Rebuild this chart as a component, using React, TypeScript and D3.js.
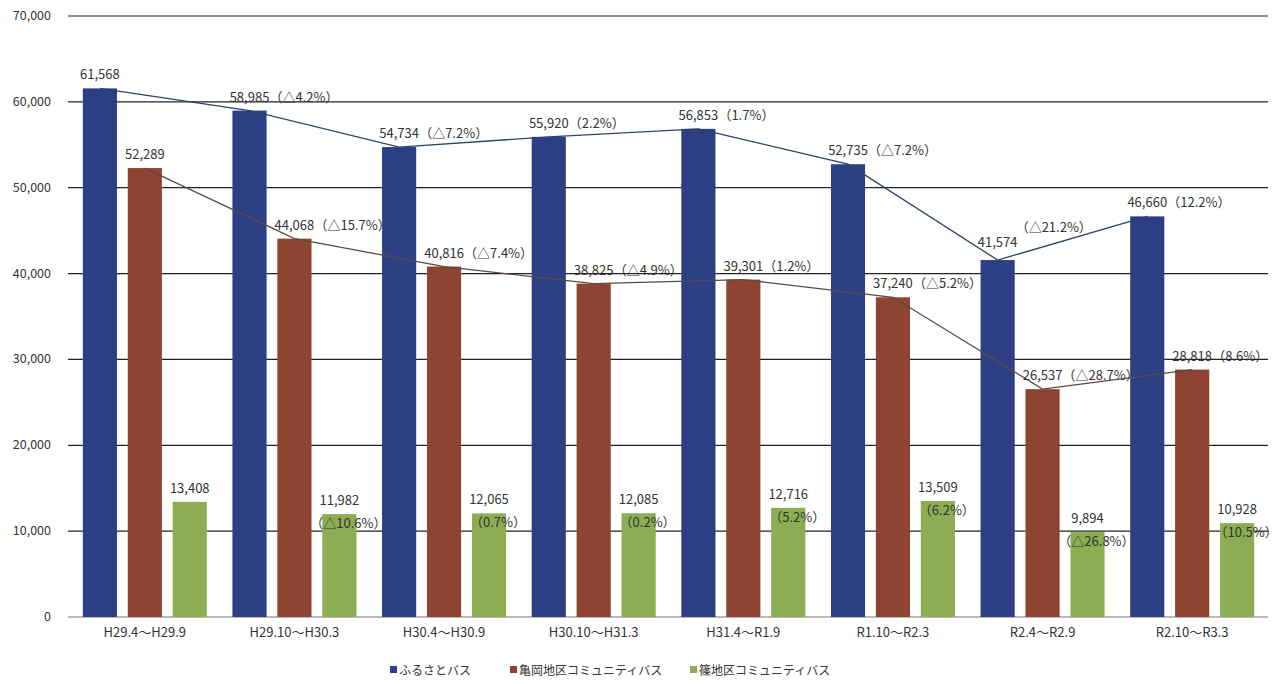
import React from 'react';
import * as d3 from 'd3';

const categories = [
  'H29.4～H29.9',
  'H29.10～H30.3',
  'H30.4～H30.9',
  'H30.10～H31.3',
  'H31.4～R1.9',
  'R1.10～R2.3',
  'R2.4～R2.9',
  'R2.10～R3.3',
];

const seriesNames = ['ふるさとバス', '亀岡地区コミュニティバス', '篠地区コミュニティバス'];

const furusato = [61568, 58985, 54734, 55920, 56853, 52735, 41574, 46660];
const kameoka = [52289, 44068, 40816, 38825, 39301, 37240, 26537, 28818];
const shino = [13408, 11982, 12065, 12085, 12716, 13509, 9894, 10928];

const yTicks = [0, 10000, 20000, 30000, 40000, 50000, 60000, 70000];

const colors = ['#2c3f84', '#8e4430', '#8cad52'];
const lineColors = ['#2c4366', '#5a4a44'];

const FONT = "'Noto Sans CJK JP', 'Noto Sans', sans-serif";
const fmt = d3.format(',');

// change vs previous period, △ for a drop
const change = (vals: number[], i: number) => {
  if (i === 0) return '';
  const r = vals[i] / vals[i - 1] - 1;
  const s = (Math.abs(r) * 100).toFixed(1) + '%';
  return r < 0 ? `（△${s}）` : `（${s}）`;
};

const width = 1280;
const height = 684;

const App: React.FC = () => {
  const series = [furusato, kameoka, shino];

  const y = d3.scaleLinear().domain([0, 70000]).range([617, 16]);
  const x = d3.scaleBand<string>().domain(categories).range([70, 1267]).padding(0);
  const inner = d3
    .scaleBand<number>()
    .domain([0, 1, 2])
    .range([-62, 62])
    .paddingInner(0.24)
    .paddingOuter(0);
  const bw = inner.bandwidth();

  const groupCenter = (c: string) => (x(c) ?? 0) + x.bandwidth() / 2;
  const barX = (c: string, s: number) => groupCenter(c) + (inner(s) ?? 0);
  const barMid = (c: string, s: number) => barX(c, s) + bw / 2;

  const legendX = [390, 510, 690];

  return (
    <svg
      width={width}
      height={height}
      style={{ position: 'absolute', left: 0, top: 0, background: '#fff' }}
      fontFamily={FONT}
    >
      {/* grid + y axis labels */}
      {yTicks.map((t) => (
        <g key={t}>
          <line
            x1={68}
            x2={1268}
            y1={y(t)}
            y2={y(t)}
            stroke={t === 0 ? '#777' : '#222'}
            strokeWidth={1.2}
          />
          <text x={51} y={y(t) + 4} textAnchor="end" fontSize={12.5} fill="#333">
            {fmt(t)}
          </text>
        </g>
      ))}

      {/* bars */}
      {series.map((vals, s) =>
        vals.map((v, i) => (
          <rect
            key={`${s}-${i}`}
            x={barX(categories[i], s)}
            y={y(v)}
            width={bw}
            height={y(0) - y(v)}
            fill={colors[s]}
          />
        ))
      )}

      {/* trend lines for the two bigger series */}
      {[0, 1].map((s) => (
        <path
          key={s}
          d={
            d3
              .line<number>()
              .x((_, i) => barMid(categories[i], s))
              .y((d) => y(d))(series[s]) ?? ''
          }
          fill="none"
          stroke={lineColors[s]}
          strokeWidth={1.3}
        />
      ))}

      {/* labels: value above, change to the right */}
      {[0, 1].map((s) =>
        series[s].map((v, i) => {
          const cx = barMid(categories[i], s);
          const top = y(v);
          const pct = change(series[s], i);
          const special = s === 0 && i === 6;
          return (
            <g key={`l${s}-${i}`} fontSize={13} fill="#333">
              <text x={cx} y={top - (special ? 13 : 9)} textAnchor="middle">
                {fmt(v)}
              </text>
              {pct && (
                <text
                  x={special ? cx + 18 : cx + 20}
                  y={special ? top - 28 : top - 9}
                  textAnchor="start"
                >
                  {pct}
                </text>
              )}
            </g>
          );
        })
      )}

      {/* labels for the small series: value above, change inside bar top */}
      {shino.map((v, i) => {
        const cx = barMid(categories[i], 2);
        const top = y(v);
        const pct = change(shino, i);
        return (
          <g key={`g${i}`} fontSize={13} fill="#333">
            <text x={cx} y={top - 9} textAnchor="middle">
              {fmt(v)}
            </text>
            {pct && (
              <text x={cx + 9} y={top + 14} textAnchor="middle">
                {pct}
              </text>
            )}
          </g>
        );
      })}

      {/* category labels */}
      {categories.map((c) => (
        <text
          key={c}
          x={groupCenter(c)}
          y={637}
          textAnchor="middle"
          fontSize={13}
          fill="#333"
        >
          {c}
        </text>
      ))}

      {/* legend */}
      {seriesNames.map((n, s) => (
        <g key={n} transform={`translate(${legendX[s]},670)`}>
          <rect x={0} y={-4} width={7} height={7} fill={colors[s]} />
          <text x={9} y={4.5} fontSize={12} fill="#333">
            {n}
          </text>
        </g>
      ))}
    </svg>
  );
};

export default App;
